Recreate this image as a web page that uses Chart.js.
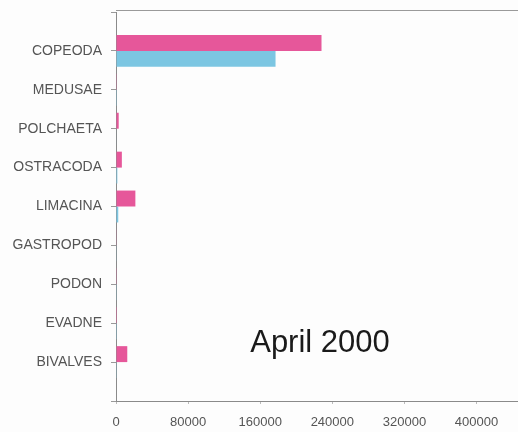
<!DOCTYPE html>
<html>
<head>
<meta charset="utf-8">
<script src="https://cdn.jsdelivr.net/npm/chart.js@4"></script>
<style>
  html, body { margin: 0; padding: 0; background: #fdfdfd; }
  #wrap { width: 518px; height: 432px; position: relative; }
</style>
</head>
<body>
<div id="wrap"><canvas id="chart"></canvas></div>
<script>
// категории (пустые строки сверху и снизу — для отступов, как в Excel)
const categories = ['', 'COPEODA', 'MEDUSAE', 'POLCHAETA', 'OSTRACODA', 'LIMACINA',
  'GASTROPOD', 'PODON', 'EVADNE', 'BIVALVES', ''];
const seriesPink = [null, 228000, 300, 3000, 6500, 21500, 400, 300, 1000, 12500, null];
const seriesBlue = [null, 177000, 200, 500, 1500, 2500, 400, 300, 200, 300, null];
const xTicks = [0, 80000, 160000, 240000, 320000, 400000];
const title = 'April 2000';

// плагин: верхняя рамка и подпись внутри поля
const frameAndTitle = {
  id: 'frameAndTitle',
  afterDraw(chart) {
    const { ctx, chartArea: { left, top, right } } = chart;
    ctx.save();
    ctx.strokeStyle = '#9a9a9a';
    ctx.lineWidth = 1;
    ctx.beginPath();
    ctx.moveTo(left, top - 1.5);
    ctx.lineTo(right, top - 1.5);
    ctx.stroke();
    ctx.fillStyle = '#1a1a1a';
    ctx.font = '31px "Liberation Sans", Arial, sans-serif';
    ctx.textAlign = 'center';
    ctx.textBaseline = 'alphabetic';
    ctx.fillText(title, 320, 352);
    ctx.restore();
  },
};

const chart = new Chart(document.getElementById('chart'), {
  type: 'bar',
  data: {
    labels: categories,
    datasets: [
      { data: seriesPink, backgroundColor: '#e6579a', borderWidth: 0 },
      { data: seriesBlue, backgroundColor: '#7cc6e2', borderWidth: 0 },
    ],
  },
  options: {
    indexAxis: 'y',
    responsive: true,
    maintainAspectRatio: false,
    animation: false,
    layout: { padding: { top: 12, right: 0, bottom: 0, left: 0 } },
    datasets: { bar: { categoryPercentage: 0.82, barPercentage: 1 } },
    plugins: { legend: { display: false }, tooltip: { enabled: false } },
    scales: {
      y: {
        offset: false,
        afterFit: (scale) => {
          scale.width = 116;
          scale.paddingTop = 0;
          scale.paddingBottom = 0;
        },
        grid: {
          offset: false, drawOnChartArea: false, tickLength: 5, color: '#999999',
        },
        border: { color: '#8a8a8a' },
        ticks: {
          color: '#555555',
          padding: 9,
          font: { family: '"Liberation Sans", Arial, sans-serif', size: 14 },
        },
      },
      x: {
        min: 0,
        max: 446000,
        afterFit: (scale) => { scale.height = 31; },
        afterBuildTicks: (scale) => { scale.ticks = xTicks.map((v) => ({ value: v })); },
        grid: { drawOnChartArea: false, tickLength: 3, color: '#bbbbbb' },
        border: { color: '#8a8a8a' },
        ticks: {
          color: '#555555',
          padding: 11,
          maxRotation: 0,
          callback: (v) => String(v),
          font: { family: '"Liberation Sans", Arial, sans-serif', size: 13 },
        },
      },
    },
  },
  plugins: [frameAndTitle],
});
</script>
</body>
</html>
